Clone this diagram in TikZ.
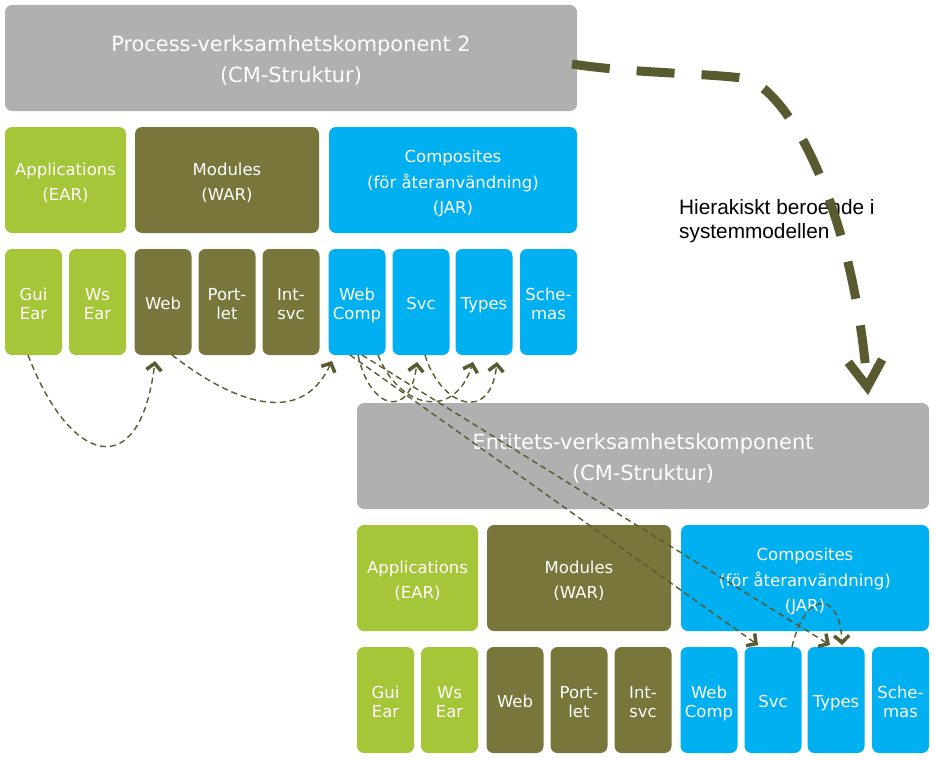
\documentclass[tikz,border=0pt]{standalone}
\usepackage{fontspec}
\setmainfont{DejaVu Sans}
\newfontfamily\arialf{Liberation Sans}
\usetikzlibrary{arrows.meta,calc}
\definecolor{cmgray}{HTML}{B0B0B0}
\definecolor{cmgreen}{HTML}{A6C63A}
\definecolor{cmolive}{HTML}{78763A}
\definecolor{cmcyan}{HTML}{00B0F0}
\definecolor{cmdark}{HTML}{5A5A30}
\newlength\boxraise
\newcommand\boxtxt[1]{\raisebox{\boxraise}[\height][\depth]{\begin{tabular}{@{}c@{}}#1\end{tabular}}}
\tikzset{
  box/.style={rounded corners=7pt, inner sep=0pt, outer sep=0pt, text=white},
  bigbox/.style={box, fill=cmgray, minimum width=572pt, minimum height=106pt, font=\fontsize{20.9}{31}\selectfont,
    execute at begin node={\setlength{\boxraise}{-3pt}}},
  midbox/.style={box, minimum height=106pt, font=\fontsize{16.5}{25.5}\selectfont,
    execute at begin node={\setlength{\boxraise}{-3pt}}},
  smallbox/.style={box, minimum width=57pt, minimum height=106pt, font=\fontsize{16.5}{19.3}\selectfont,
    execute at begin node={\setlength{\boxraise}{-4pt}}},
  appc/.style={fill=cmgreen},
  modc/.style={fill=cmolive},
  compc/.style={fill=cmcyan},
  depline/.style={draw=cmdark, line width=1.4pt, dash pattern=on 6pt off 4pt,
    -{Straight Barb[length=7pt,width=15pt,line width=3.5pt]}},
  hierline/.style={draw=cmdark, line width=9pt, dash pattern=on 38pt off 27pt,
    -{Straight Barb[length=26pt,width=34pt,line width=9pt]}},
}
\begin{document}
\begin{tikzpicture}[x=1pt,y=-1pt]
\useasboundingbox (0,0) rectangle (934,760);
% ---- top group
\node[bigbox] (proc) at (291,58) {\boxtxt{Process-verksamhetskomponent 2\\(CM-Struktur)}};
\node[midbox,appc,minimum width=121pt] (app1) at (65.5,180) {\boxtxt{Applications\\(EAR)}};
\node[midbox,modc,minimum width=184pt] (mod1) at (227,180) {\boxtxt{Modules\\(WAR)}};
\node[midbox,compc,minimum width=248pt] (comp1) at (453,180) {\boxtxt{Composites\\(för återanvändning)\\(JAR)}};
\node[smallbox,appc] (gui1) at (33.5,302) {\boxtxt{Gui\\Ear}};
\node[smallbox,appc] (ws1) at (97.5,302) {\boxtxt{Ws\\Ear}};
\node[smallbox,modc] (web1) at (163,302) {\boxtxt{Web}};
\node[smallbox,modc] (port1) at (227,302) {\boxtxt{Port-\\let}};
\node[smallbox,modc] (int1) at (291,302) {\boxtxt{Int-\\svc}};
\node[smallbox,compc] (wc1) at (357,302) {\boxtxt{Web\\Comp}};
\node[smallbox,compc] (svc1) at (421,302) {\boxtxt{Svc}};
\node[smallbox,compc] (typ1) at (484,302) {\boxtxt{Types}};
\node[smallbox,compc] (sch1) at (548.5,302) {\boxtxt{Sche-\\mas}};
% ---- bottom group
\node[bigbox] (bproc) at (643,456) {\boxtxt{Entitets-verksamhetskomponent\\(CM-Struktur)}};
\node[midbox,appc,minimum width=121pt] (app2) at (417.5,578) {\boxtxt{Applications\\(EAR)}};
\node[midbox,modc,minimum width=184pt] (mod2) at (579,578) {\boxtxt{Modules\\(WAR)}};
\node[midbox,compc,minimum width=248pt] (comp2) at (805,578) {\boxtxt{Composites\\(för återanvändning)\\(JAR)}};
\node[smallbox,appc] (gui2) at (385.5,700) {\boxtxt{Gui\\Ear}};
\node[smallbox,appc] (ws2) at (449.5,700) {\boxtxt{Ws\\Ear}};
\node[smallbox,modc] (web2) at (515,700) {\boxtxt{Web}};
\node[smallbox,modc] (port2) at (579,700) {\boxtxt{Port-\\let}};
\node[smallbox,modc] (int2) at (643,700) {\boxtxt{Int-\\svc}};
\node[smallbox,compc] (wc2) at (709,700) {\boxtxt{Web\\Comp}};
\node[smallbox,compc] (svc2) at (773,700) {\boxtxt{Svc}};
\node[smallbox,compc] (typ2) at (836,700) {\boxtxt{Types}};
\node[smallbox,compc] (sch2) at (900.5,700) {\boxtxt{Sche-\\mas}};
% ---- label
\node[anchor=north west, inner sep=0pt, align=left, font=\arialf\fontsize{20.8}{24}\selectfont] (lbl) at (679,199.5) {Hierakiskt beroende i\\systemmodellen};
% ---- connectors top
\draw[depline] ([xshift=-5.5pt]gui1.south) .. controls (70,465) and (140,485) .. ([xshift=-8pt,yshift=-6pt]web1.south);
\draw[depline] ([xshift=9pt]web1.south) .. controls (230,400) and (300,430) .. ([xshift=3.5pt,yshift=-6pt]wc1.south west);
\draw[depline] ([xshift=1pt]wc1.south) .. controls (370,410) and (410,420) .. ([xshift=-4pt,yshift=-7pt]svc1.south);
\draw[depline] ([xshift=21pt]wc1.south) .. controls (400,410) and (455,420) .. ([xshift=-11pt,yshift=-7pt]typ1.south);
\draw[depline] ([xshift=4pt]svc1.south) .. controls (440,405) and (490,425) .. ([xshift=13pt,yshift=-7pt]typ1.south);
% ---- connectors to bottom group
\draw[depline] ([xshift=-7pt]wc1.south) -- ([xshift=-15pt,yshift=2pt]svc2.north);
\draw[depline] ([xshift=5pt]wc1.south) -- ([xshift=-6pt,yshift=2pt]typ2.north);
\draw[depline] ([xshift=19pt]svc2.north) .. controls (805,590) and (840,590) .. ([xshift=6pt,yshift=2pt]typ2.north);
% ---- hierarchy arrow
\draw[hierline] ([xshift=-5pt,yshift=-6pt]proc.east) .. controls (630,73) and (700,73) .. (742,78)
  .. controls (784,83) and (852,200) .. ([xshift=-61pt,yshift=8pt]bproc.north east);
\end{tikzpicture}
\end{document}
